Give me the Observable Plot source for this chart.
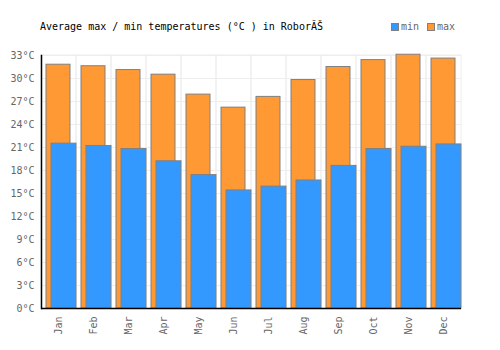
<!DOCTYPE html>
<html>
<head>
<meta charset="utf-8">
<script src="https://cdn.jsdelivr.net/npm/d3@7"></script>
<script src="https://cdn.jsdelivr.net/npm/@observablehq/plot@0.6"></script>
<style>
  body { margin: 0; background: #fff; }
  #wrap { position: relative; width: 500px; height: 350px; font-family: "DejaVu Sans Mono", monospace; }
  #title { position: absolute; left: 40px; top: 21px; font-size: 10px; color: #000; white-space: pre; }
  #legend { position: absolute; left: 391px; top: 21px; font-size: 10px; color: #666; display: flex; align-items: center; }
  .sw { display: inline-block; width: 6px; height: 6px; border: 1px solid #808080; margin-right: 2px; }
  .item { display: flex; align-items: center; margin-right: 8px; }
  svg { position: absolute; left: 0; top: 0; }
</style>
</head>
<body>
<div id="wrap">
  <div id="title">Average max / min temperatures (°C ) in RoborĂŠ</div>
  <div id="legend">
    <span class="item"><span class="sw" style="background:#3399ff"></span>min</span>
    <span class="item"><span class="sw" style="background:#ff9933"></span>max</span>
  </div>
</div>
<script>
const months = ["Jan","Feb","Mar","Apr","May","Jun","Jul","Aug","Sep","Oct","Nov","Dec"];
const maxTemp = [31.8, 31.6, 31.1, 30.5, 27.9, 26.2, 27.6, 29.8, 31.5, 32.4, 33.1, 32.6];
const minTemp = [21.5, 21.2, 20.8, 19.2, 17.4, 15.4, 15.9, 16.7, 18.6, 20.8, 21.1, 21.4];
const yTicks = [0, 3, 6, 9, 12, 15, 18, 21, 24, 27, 30, 33];

const rows = months.map((m, i) => ({month: m, max: maxTemp[i], min: minTemp[i]}));

const chart = Plot.plot({
  width: 500,
  height: 350,
  marginTop: 55,
  marginBottom: 42,
  marginLeft: 41,
  marginRight: 39,
  style: {fontFamily: "DejaVu Sans Mono, monospace", fontSize: "10px", background: "transparent"},
  x: {type: "band", domain: months, padding: 0, label: null},
  y: {domain: [0, 33], label: null},
  marks: [
    Plot.gridY(yTicks, {stroke: "#eeeeee", strokeOpacity: 1}),
    Plot.barY(rows, {x: "month", y1: 0, y2: 33, fill: "none", stroke: "#eeeeee"}),
    Plot.barY(rows, {x: "month", y: "max", fill: "#ff9933", stroke: "#808080", strokeWidth: 1, insetLeft: 5, insetRight: 6}),
    Plot.barY(rows, {x: "month", y: "min", fill: "#3399ff", stroke: "#808080", strokeWidth: 1, insetLeft: 10, insetRight: 0}),
    Plot.ruleY([0], {stroke: "#000", strokeWidth: 1.5}),
    Plot.frame({anchor: "left", stroke: "#000", strokeWidth: 1.5}),
    Plot.axisY(yTicks, {tickSize: 0, tickPadding: 7, tickFormat: d => d + "°C", fill: "#666", label: null}),
    Plot.axisX({tickSize: 0, tickPadding: 8, tickRotate: -90, fill: "#666", label: null})
  ]
});
document.getElementById("wrap").prepend(chart);
</script>
</body>
</html>
